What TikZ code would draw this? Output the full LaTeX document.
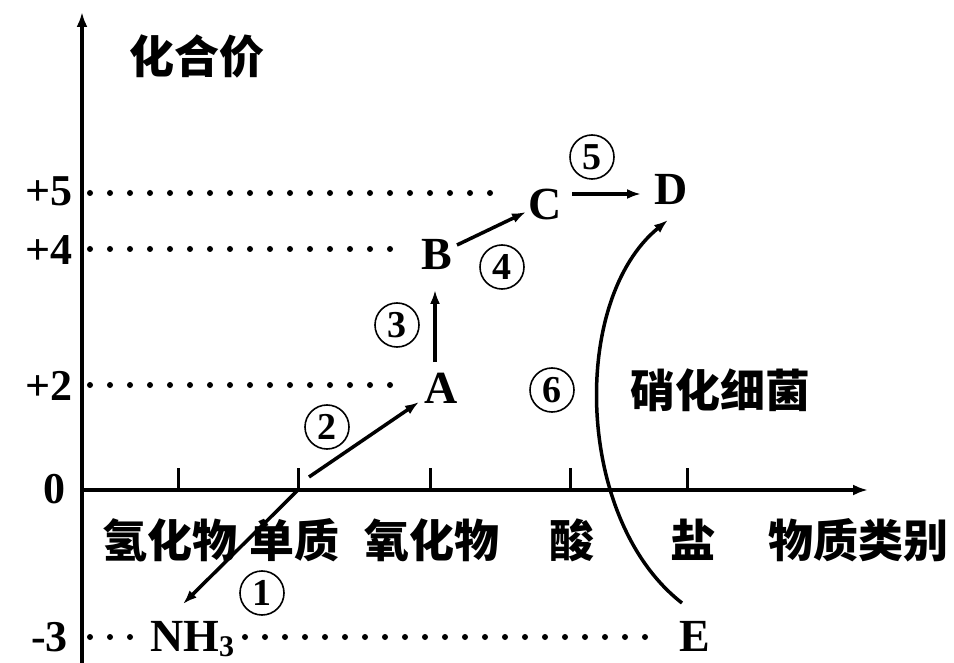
\documentclass[tikz,border=0pt]{standalone}
\usepackage{fontspec}
\setmainfont{Liberation Serif}
\newfontfamily\cjk{Noto Sans CJK SC}
\usetikzlibrary{arrows.meta}
\begin{document}
\begin{tikzpicture}[x=1pt,y=-1pt,
  lat/.style={inner sep=0pt,font=\fontsize{46}{46}\selectfont\bfseries},
  num/.style={inner sep=0pt,anchor=east,font=\fontsize{44}{44}\selectfont\bfseries},
  han/.style={inner sep=0pt,font=\cjk\bfseries\fontsize{45}{45}\selectfont},
  circnum/.style={circle,draw,line width=1.6pt,inner sep=0pt,minimum size=44pt,font=\fontsize{38}{38}\selectfont\bfseries},
  dotline/.style={line width=6pt,dash pattern=on 0pt off 20pt,line cap=round},
  arr/.style={line width=3.5pt,-{Latex[length=14pt,width=10pt]}},
  axisline/.style={line width=4pt,-{Latex[length=15pt,width=11pt]}},
  tick/.style={line width=3pt}]
\useasboundingbox (0,0) rectangle (954,663);
% axes
\coordinate (yb) at (82,663);
\coordinate (yt) at (82,12);
\coordinate (o) at (82,490);
\coordinate (xe) at (868,490);
\draw[axisline] (yb) -- (yt);
\draw[axisline] (o) -- (xe);
% ticks
\foreach \t/\x in {t1/178,t2/298,t3/430,t4/570,t5/687}{
  \coordinate (\t) at (\x,490);
  \coordinate (\t u) at (\x,468);
  \draw[tick] (\t) -- (\t u);
}
% axis titles
\node[han] (yl) at (197,56) {化合价};
\node[han] (xl) at (858,540) {物质类别};
% category labels
\node[han] (c1) at (170,540) {氢化物};
\node[han] (c2) at (294,540) {单质};
\node[han] (c3) at (432,540) {氧化物};
\node[han] (c4) at (572,540) {酸};
\node[han] (c5) at (693,540) {盐};
% valence labels
\node[num] (v5) at (73,191) {+5};
\node[num] (v4) at (73,250) {+4};
\node[num] (v2) at (73,386) {+2};
\node[num] (v0) at (66,489) {0};
\node[num] (v3) at (68,637) {-3};
% species
\node[lat] (A) at (441,388) {A};
\node[lat] (B) at (437,255) {B};
\node[lat] (C) at (545,204) {C};
\node[lat] (D) at (671,189) {D};
\node[lat] (E) at (695,636) {E};
\node[lat,anchor=base west] (nh3) at (150,651) {NH\raisebox{-5pt}{\fontsize{30}{30}\selectfont 3}};
% dotted guide lines
\coordinate (d5a) at (90,193);  \coordinate (d5b) at (505,193);
\coordinate (d4a) at (90,249);  \coordinate (d4b) at (400,249);
\coordinate (d2a) at (90,385);  \coordinate (d2b) at (400,385);
\coordinate (d3a) at (90,637);  \coordinate (d3b) at (132,637);
\coordinate (d3c) at (245,637); \coordinate (d3d) at (662,637);
\draw[dotline] (d5a) -- (d5b);
\draw[dotline] (d4a) -- (d4b);
\draw[dotline] (d2a) -- (d2b);
\draw[dotline] (d3a) -- (d3b);
\draw[dotline] (d3c) -- (d3d);
% reaction arrows
\coordinate (n2) at (298,490);
\coordinate (r1e) at (183,604);
\coordinate (r2s) at (309,477);
\coordinate (r2e) at (419,402);
\coordinate (r3s) at (435,362);
\coordinate (r3e) at (435,290);
\coordinate (r4s) at (457,245);
\coordinate (r4e) at (526,212);
\coordinate (r5s) at (572,194);
\coordinate (r5e) at (641,194);
\coordinate (r6s) at (682,603);
\coordinate (r6e) at (668,220);
\draw[arr] (n2) -- (r1e);
\draw[arr] (r2s) -- (r2e);
\draw[arr] (r3s) -- (r3e);
\draw[arr] (r4s) -- (r4e);
\draw[arr] (r5s) -- (r5e);
\draw[arr] (r6s) .. controls (575,520) and (570,300) .. (r6e);
% step numbers
\node[circnum] (s1) at (262,593) {1};
\node[circnum] (s2) at (327,427) {2};
\node[circnum] (s3) at (397,325) {3};
\node[circnum] (s4) at (502,267) {4};
\node[circnum] (s5) at (592,157) {5};
\node[circnum] (s6) at (552,390) {6};
\node[han] (bact) at (720,390) {硝化细菌};
\end{tikzpicture}
\end{document}
